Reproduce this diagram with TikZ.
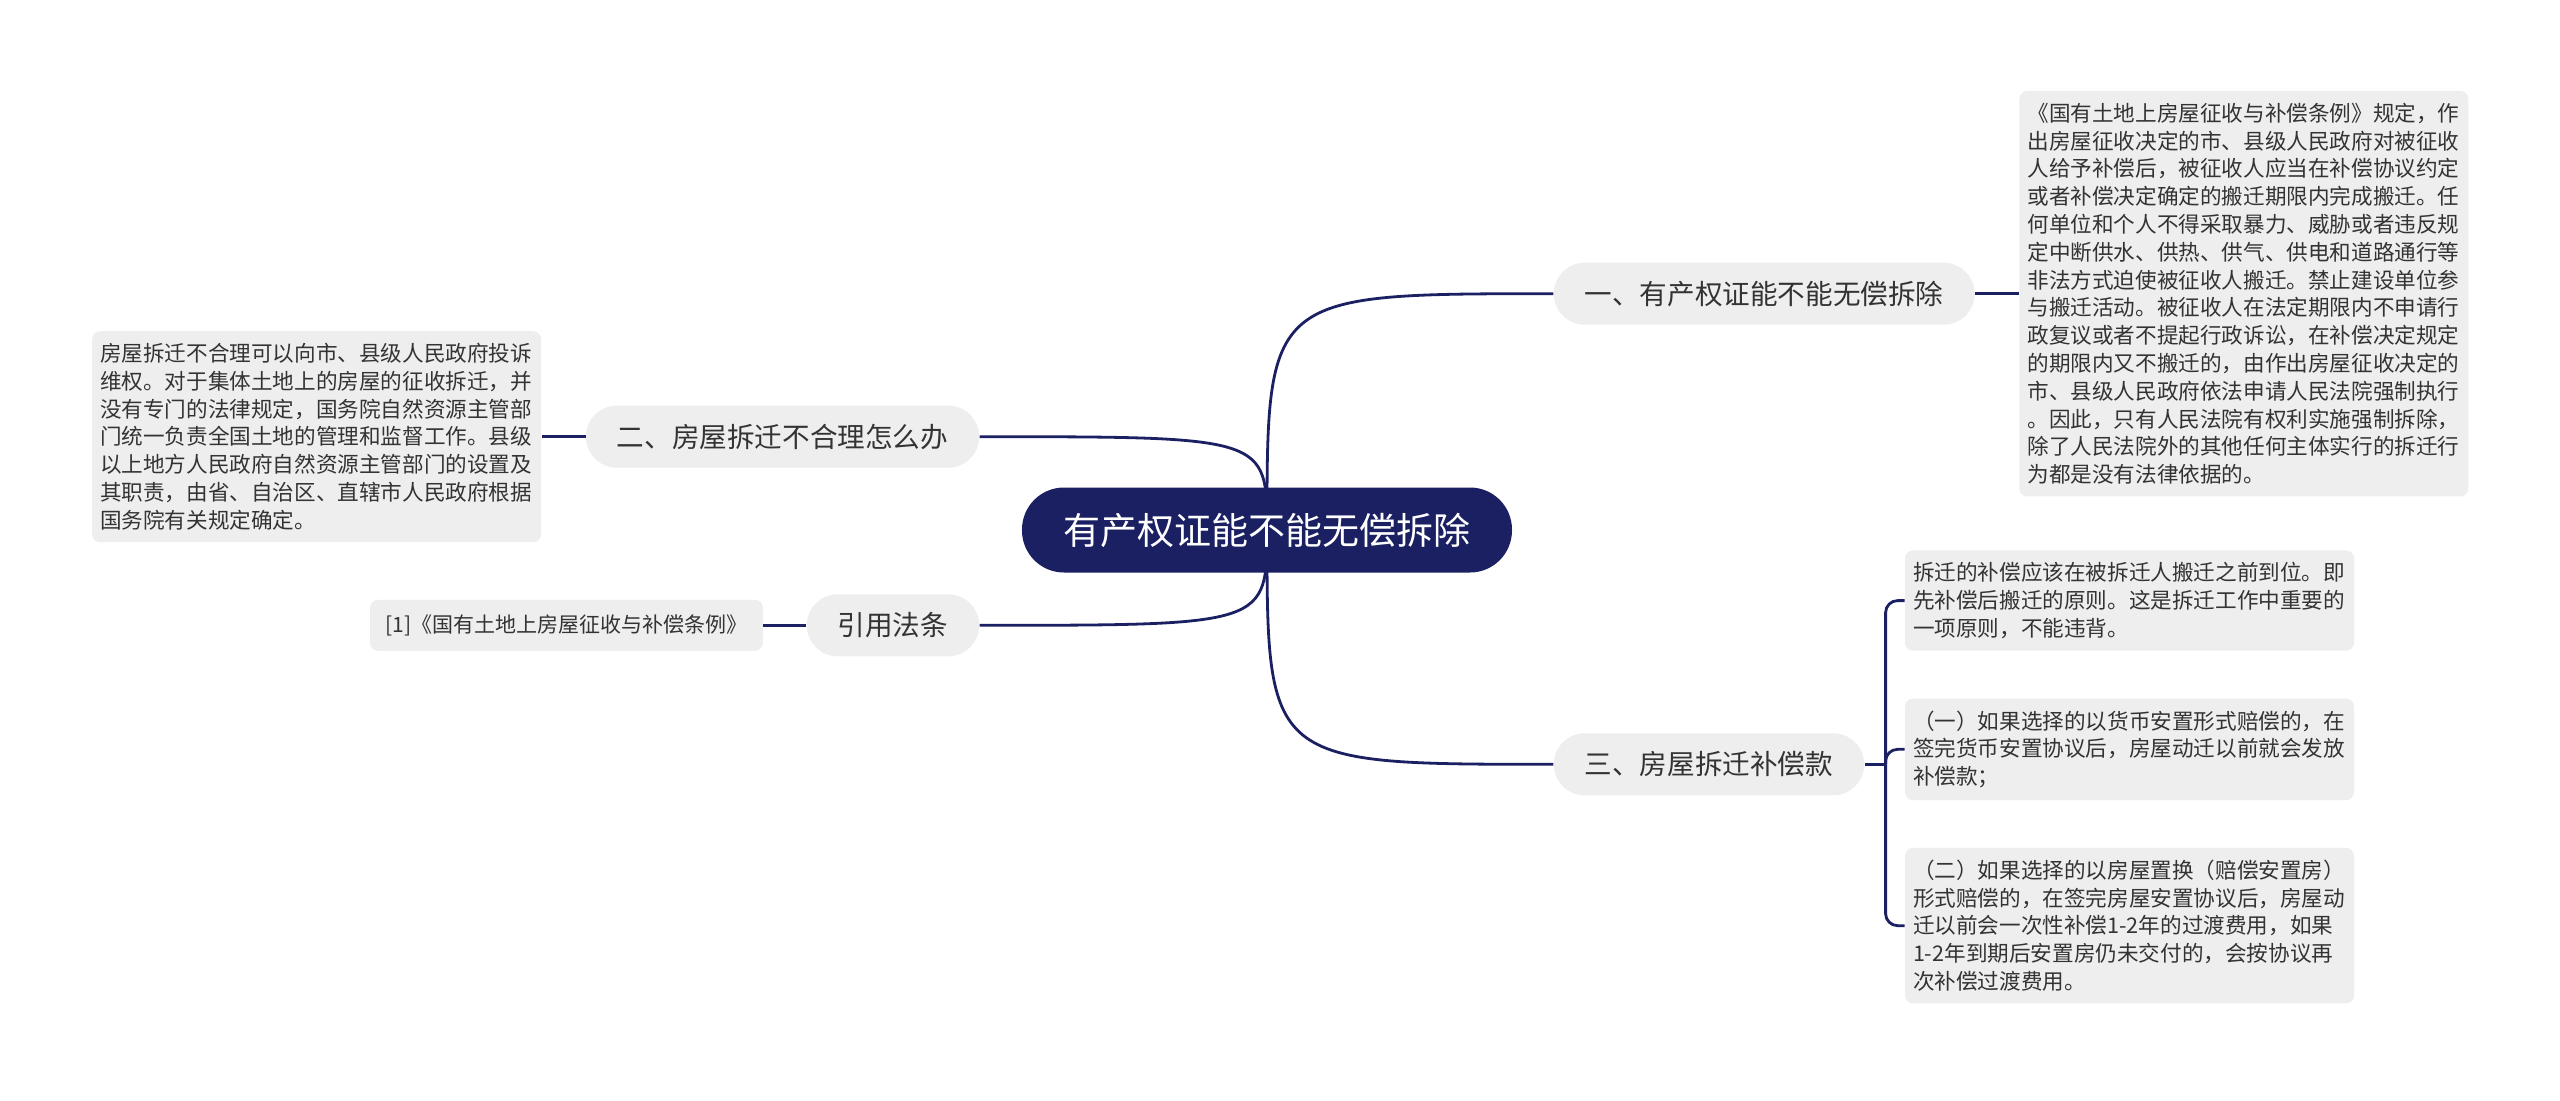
\documentclass[tikz,border=0pt]{standalone}
\usepackage{fontspec}
\setmainfont{Noto Sans CJK SC}
\usetikzlibrary{positioning, backgrounds}

\definecolor{navy}{HTML}{1A2061}
\definecolor{boxgray}{HTML}{EEEEEE}
\definecolor{ink}{HTML}{333333}

\begin{document}
\begin{tikzpicture}[
    node distance=22pt,
    topic/.style={rectangle, rounded corners=21pt, fill=navy, text=white,
        minimum width=245pt, minimum height=42.5pt,
        font=\fontsize{18.5pt}{22pt}\selectfont},
    branch/.style={rectangle, rounded corners=15.5pt, fill=boxgray, text=ink,
        minimum height=31pt, inner xsep=15.5pt,
        font=\fontsize{13.8pt}{16pt}\selectfont},
    leaf/.style={rectangle, rounded corners=4pt, fill=boxgray, text=ink,
        text width=216.5pt, align=left, inner xsep=4pt, inner ysep=6pt,
        font=\fontsize{10.8pt}{13.9pt}\selectfont},
    citebox/.style={rectangle, rounded corners=4pt, fill=boxgray, text=ink,
        minimum height=25.5pt, inner xsep=7.75pt,
        font=\fontsize{10.5pt}{12.5pt}\selectfont},
    link/.style={draw=navy, line width=1.4pt}
]
\useasboundingbox (-633.5pt,-285pt) rectangle (646.5pt,265pt);

% Central topic
\node[topic] (root) {有产权证能不能无偿拆除};

% Main branches
\node[branch, above right=81pt and 20.5pt of root] (b1) {一、有产权证能不能无偿拆除};
\node[branch, below right=80pt and 20.5pt of root] (b3) {三、房屋拆迁补偿款};
\node[branch, above left=9.5pt and 21pt of root] (b2) {二、房屋拆迁不合理怎么办};
\node[branch, below left=10.5pt and 21pt of root] (law) {引用法条};

% Details
\node[leaf, right=22pt of b1] (d1) {《国有土地上房屋征收与补偿条例》规定，作\\
    出房屋征收决定的市、县级人民政府对被征收\\
    人给予补偿后，被征收人应当在补偿协议约定\\
    或者补偿决定确定的搬迁期限内完成搬迁。任\\
    何单位和个人不得采取暴力、威胁或者违反规\\
    定中断供水、供热、供气、供电和道路通行等\\
    非法方式迫使被征收人搬迁。禁止建设单位参\\
    与搬迁活动。被征收人在法定期限内不申请行\\
    政复议或者不提起行政诉讼，在补偿决定规定\\
    的期限内又不搬迁的，由作出房屋征收决定的\\
    市、县级人民政府依法申请人民法院强制执行\\
    。因此，只有人民法院有权利实施强制拆除，\\
    除了人民法院外的其他任何主体实行的拆迁行\\
    为都是没有法律依据的。};
\node[leaf, left=22pt of b2] (d2) {房屋拆迁不合理可以向市、县级人民政府投诉\\
    维权。对于集体土地上的房屋的征收拆迁，并\\
    没有专门的法律规定，国务院自然资源主管部\\
    门统一负责全国土地的管理和监督工作。县级\\
    以上地方人民政府自然资源主管部门的设置及\\
    其职责，由省、自治区、直辖市人民政府根据\\
    国务院有关规定确定。};
\node[citebox, left=21.5pt of law] (ref) {[1]《国有土地上房屋征收与补偿条例》};

% Compensation items
\node[leaf, right=20pt of b3, yshift=7.5pt] (c2) {（一）如果选择的以货币安置形式赔偿的，在\\
    签完货币安置协议后，房屋动迁以前就会发放\\
    补偿款；};
\node[leaf, above=23.5pt of c2] (c1) {拆迁的补偿应该在被拆迁人搬迁之前到位。即\\
    先补偿后搬迁的原则。这是拆迁工作中重要的\\
    一项原则，不能违背。};
\node[leaf, below=23.5pt of c2] (c3) {（二）如果选择的以房屋置换（赔偿安置房）\\
    形式赔偿的，在签完房屋安置协议后，房屋动\\
    迁以前会一次性补偿1-2年的过渡费用，如果\\
    1-2年到期后安置房仍未交付的，会按协议再\\
    次补偿过渡费用。};

% Connectors
\begin{scope}[on background layer]
\fill[white] (-633.5pt,-285pt) rectangle (646.5pt,265pt);
\draw[link] (root.center) .. controls (root.center |- b1.west) .. (b1.west);
\draw[link] (root.center) .. controls (root.center |- b3.west) .. (b3.west);
\draw[link] (root.center) .. controls (root.center |- b2.east) .. (b2.east);
\draw[link] (root.center) .. controls (root.center |- law.east) .. (law.east);
\end{scope}

\draw[link] (b1.east) -- (d1.west);
\draw[link] (b2.west) -- (d2.east);
\draw[link] (law.west) -- (ref.east);

\draw[link] (b3.east) -- ++(10.5pt,0) coordinate (fork);
\draw[link, rounded corners=6pt] (fork) |- (c1.west);
\draw[link, rounded corners=6pt] (fork) |- (c2.west);
\draw[link, rounded corners=6pt] (fork) |- (c3.west);

\end{tikzpicture}
\end{document}
